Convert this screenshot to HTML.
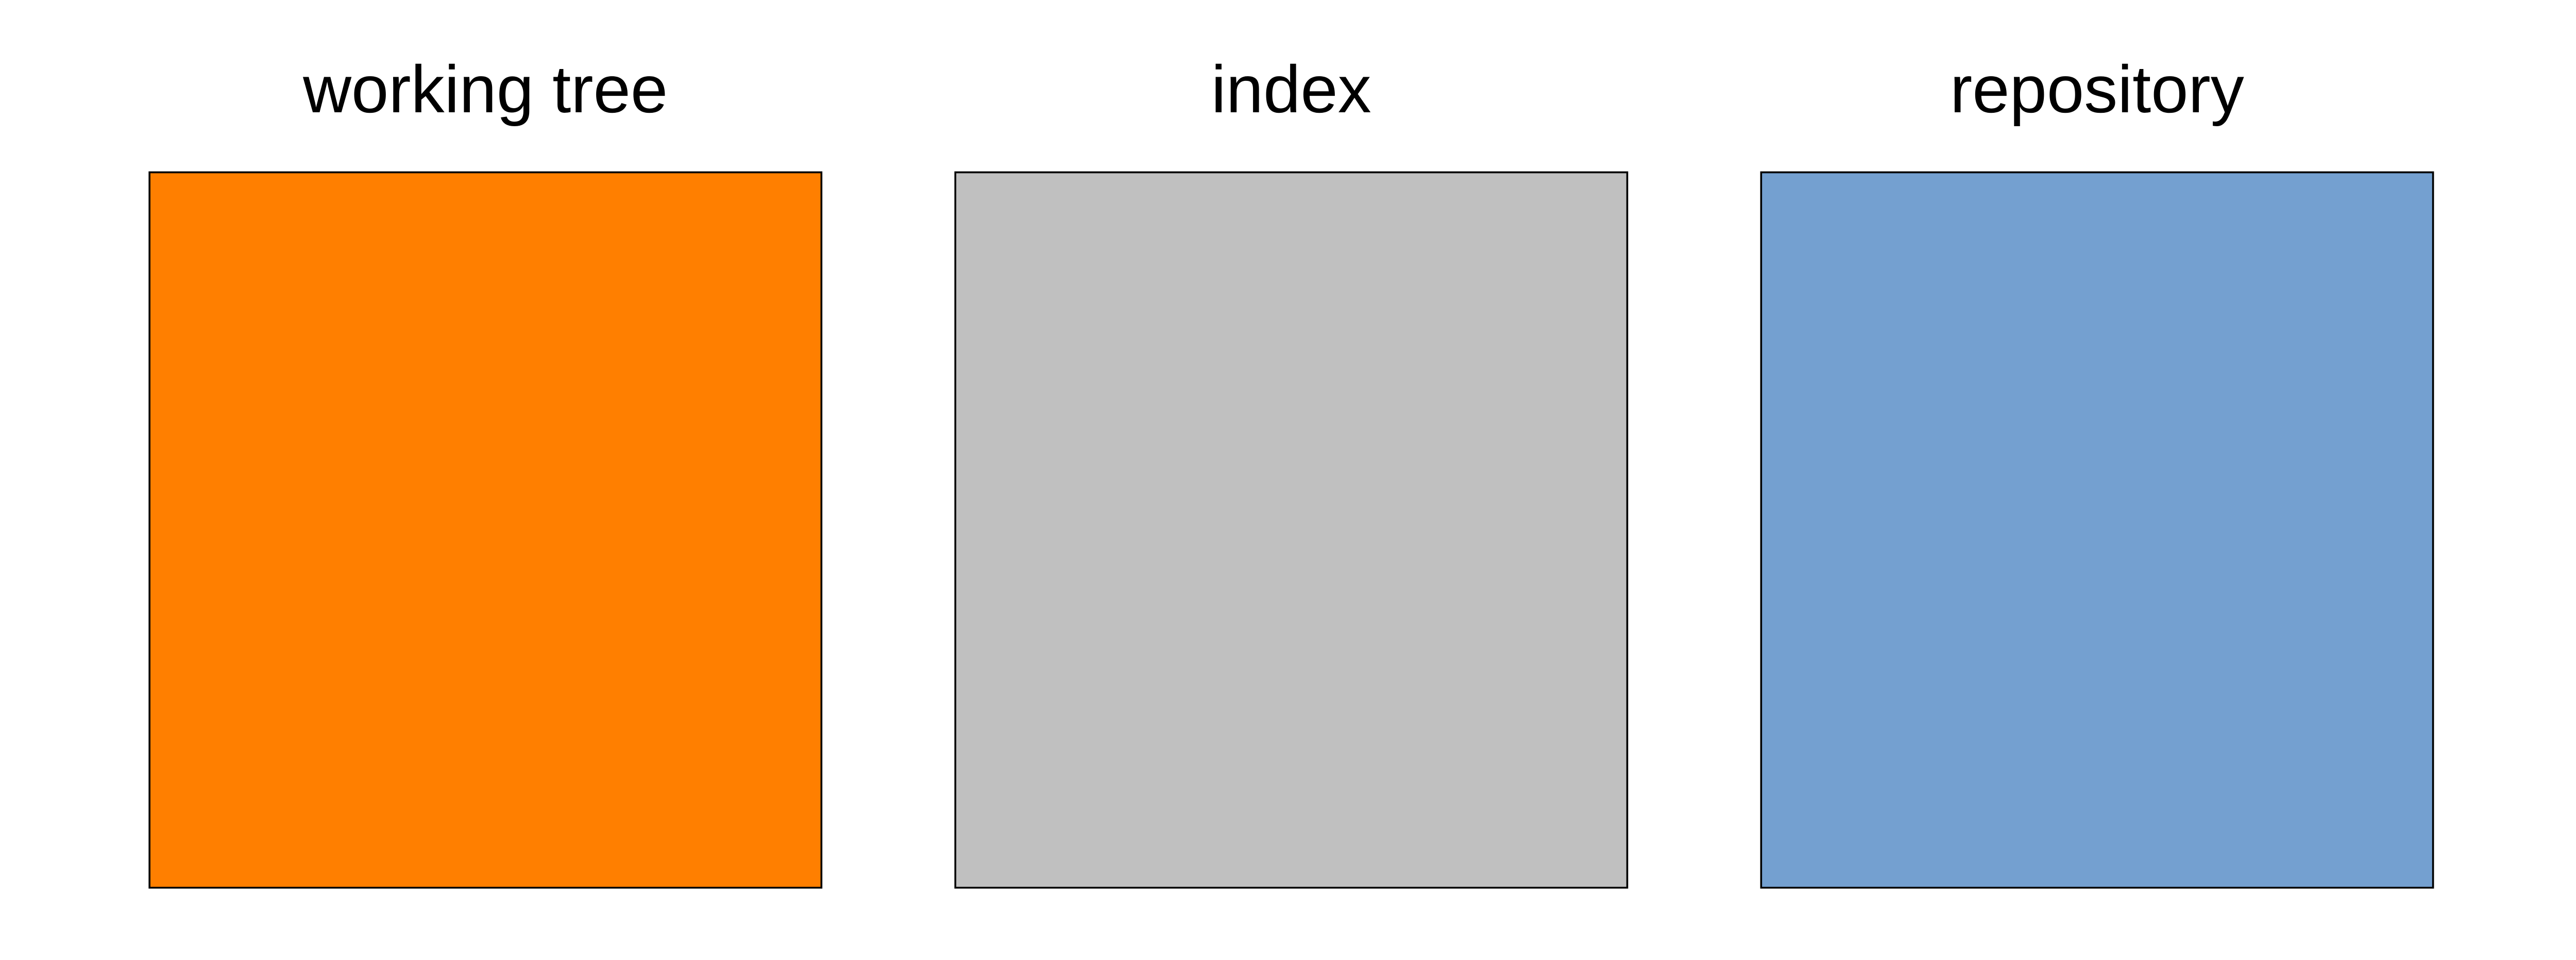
<!DOCTYPE html>
<html><head><meta charset="utf-8"><style>
html,body{margin:0;padding:0;background:#fff;width:100%;height:100%;overflow:hidden;}
svg{display:block;position:fixed;left:0;top:0;width:100vw;height:100vh;}
.title{position:fixed;width:26.08vw;text-align:center;font-family:"Liberation Sans",Arial,sans-serif;font-size:2.6vw;line-height:1;color:#000;white-space:nowrap;top:calc(12.1vh - 0.905 * 2.6vw);}
</style></head><body>
<svg id="chart" viewBox="0 0 1568 512.6" preserveAspectRatio="none" xmlns="http://www.w3.org/2000/svg">
<rect x="0" y="0" width="1568" height="512.6" fill="#ffffff"/>
<rect id="box0" x="91" y="92" width="409" height="382" fill="#ff7f00" stroke="#000" stroke-width="3.6" vector-effect="non-scaling-stroke"/>
<rect id="box1" x="581.5" y="92" width="409" height="382" fill="#c0c0c0" stroke="#000" stroke-width="3.6" vector-effect="non-scaling-stroke"/>
<rect id="box2" x="1072" y="92" width="409" height="382" fill="#74a0d0" stroke="#000" stroke-width="3.6" vector-effect="non-scaling-stroke"/>
</svg>
<div id="title0" class="title" style="left:5.804vw">working tree</div>
<div id="title1" class="title" style="left:37.09vw">index</div>
<div id="title2" class="title" style="left:68.37vw">repository</div>
<script>
var categories = ["working tree", "index", "repository"];
var fills = ["#ff7f00", "#c0c0c0", "#74a0d0"];
(function(){
  try {
    var x0 = 91, step = 490.5, w = 409, total = 1568;
    for (var i = 0; i < categories.length; i++) {
      var r = document.getElementById("box" + i);
      var t = document.getElementById("title" + i);
      if (!r || !t) continue;
      r.setAttribute("x", x0 + i * step);
      r.setAttribute("fill", fills[i]);
      t.style.left = ((x0 + i * step) / total * 100) + "vw";
      t.textContent = categories[i];
    }
  } catch (e) {}
})();
</script>
</body></html>
